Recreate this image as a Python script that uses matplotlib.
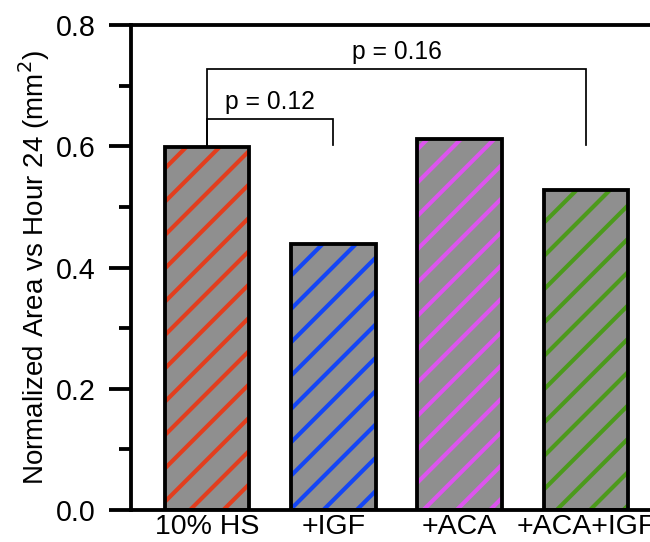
import matplotlib
matplotlib.use("Agg")
import matplotlib.pyplot as plt
from matplotlib.ticker import MultipleLocator

plt.rcParams['font.family'] = ['Liberation Sans', 'DejaVu Sans']
plt.rcParams['hatch.linewidth'] = 3.0

# data
groups = ['10% HS', '+IGF', '+ACA', '+ACA+IGF']
values = [0.598, 0.439, 0.612, 0.528]
hatch_colors = ['#E23E1E', '#1446F5', '#DD55EE', '#4C9A1C']
# significance brackets: (left bar, right bar, height, text)
brackets = [(0, 1, 0.645, 'p = 0.12'), (0, 3, 0.727, 'p = 0.16')]

fig = plt.figure(figsize=(6.5, 5.42), dpi=100)
ax = fig.add_axes([0.2018, 0.059, 0.8163, 0.8948])

x = list(range(1, len(groups) + 1))
# gray fill + coloured hatch, then black outline on top
ax.bar(x, values, width=0.67, color='#8F8F8F', edgecolor=hatch_colors,
       hatch='/', linewidth=0, zorder=2)
ax.bar(x, values, width=0.67, facecolor='none', edgecolor='black',
       linewidth=2.75, zorder=3)

# brackets
for i, j, h, txt in brackets:
    xi, xj = x[i], x[j]
    ax.plot([xi, xi, xj, xj], [values[i], h, h, 0.602], color='black',
            lw=1.25, zorder=4, solid_joinstyle='miter')
    ax.text((xi + xj) / 2, h + 0.017, txt, ha='center', va='baseline',
            fontsize=17.75)

ax.set_xlim(0.4, 4.6)
ax.set_ylim(0, 0.8)
ax.set_xticks(x)
ax.set_xticklabels(groups, fontsize=20.5)
ax.tick_params(axis='x', length=0, pad=3)
ax.yaxis.set_major_locator(MultipleLocator(0.2))
ax.yaxis.set_minor_locator(MultipleLocator(0.1))
ax.tick_params(axis='y', which='major', length=15.6, width=2.75,
               labelsize=20.6, pad=10)
ax.tick_params(axis='y', which='minor', length=8.75, width=2.75)
for s in ax.spines.values():
    s.set_linewidth(2.75)
ax.set_ylabel('Normalized Area vs Hour 24 (mm$^2$)', fontsize=20,
              labelpad=3)

fig.savefig('out.png', dpi=100)
